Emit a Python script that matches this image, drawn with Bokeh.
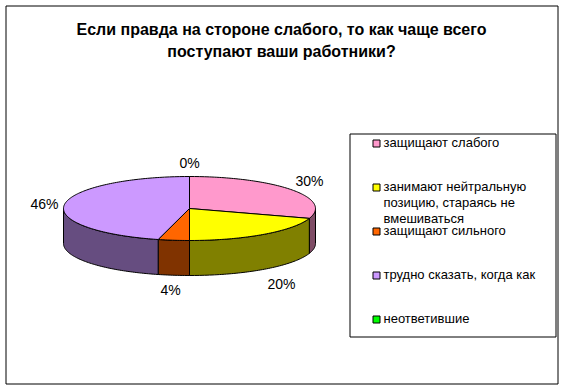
import math
from bokeh.plotting import figure
from bokeh.models import Range1d
from bokeh.embed import file_html
from bokeh.resources import INLINE

title_lines = ["Если правда на стороне слабого, то как чаще всего", "поступают ваши работники?"]
values = [30, 20, 4, 46, 0]
pct_labels = ["30%", "20%", "4%", "46%", "0%"]
legend_items = [["защищают слабого"],
                ["занимают нейтральную", "позицию, стараясь не", "вмешиваться"],
                ["защищают сильного"],
                ["трудно сказать, когда как"],
                ["неответившие"]]
top_colors = ["#ff99cc", "#ffff00", "#ff6600", "#cc99ff", "#00ff00"]
side_colors = ["#7f4d66", "#808000", "#803300", "#664d80", "#008000"]

W, H = 564, 389
CX, CY, RX, RY, DEPTH = 189, 208, 126, 32, 35
FONT = "Liberation Sans"

p = figure(width=W, height=H, output_backend="svg", toolbar_location=None,
           x_range=Range1d(0, W), y_range=Range1d(H, 0), min_border=0,
           outline_line_color=None, background_fill_color="white", border_fill_color="white")
p.axis.visible = False
p.grid.visible = False


def pt(a, dy=0.0):
    return CX + RX * math.sin(a), CY - RY * math.cos(a) + dy


def arc(a0, a1, dy=0.0):
    n = max(2, int(abs(a1 - a0) / 0.02) + 2)
    return [pt(a0 + (a1 - a0) * i / (n - 1), dy) for i in range(n)]


# outer frame and legend box
p.quad(left=[5.5], right=[557.5], top=[5.5], bottom=[383.5], fill_color="white", line_color="black", line_width=1)
p.quad(left=[349.5], right=[555.5], top=[133.5], bottom=[336.5], fill_color="white", line_color="black", line_width=1)

# slices
total = sum(values)
edges = [0.0]
for v in values:
    edges.append(edges[-1] + v / total * 2 * math.pi)

# side walls: only the front half (90..270 degrees) is visible
for i, v in enumerate(values):
    a0 = max(edges[i], math.pi / 2)
    a1 = min(edges[i + 1], 3 * math.pi / 2)
    if a1 > a0:
        poly = arc(a0, a1) + arc(a1, a0, DEPTH)
        p.patch([q[0] for q in poly], [q[1] for q in poly], fill_color=side_colors[i], line_color="black", line_width=1)

# top faces
for i, v in enumerate(values):
    if v > 0:
        poly = [(CX, CY)] + arc(edges[i], edges[i + 1])
        p.patch([q[0] for q in poly], [q[1] for q in poly], fill_color=top_colors[i], line_color="black", line_width=1)

# percentage labels
label_pos = [(309, 180), (281, 283), (170, 289), (44, 203), (189, 162)]
for s, (x, y) in zip(pct_labels, label_pos):
    p.text([x], [y], text=[s], text_font={"value": FONT}, text_font_size="14px", text_color="black",
           text_align="center", text_baseline="middle")

# title
for s, y in zip(title_lines, [29, 51]):
    p.text([281], [y], text=[s], text_font={"value": FONT}, text_font_size="16px", text_font_style="bold",
           text_color="black", text_align="center", text_baseline="middle")

# legend
legend_y = [143, 187, 231, 275, 319]
for items, y, c in zip(legend_items, legend_y, top_colors):
    p.quad(left=[372.5], right=[379.5], top=[y - 3.5], bottom=[y + 3.5], fill_color=c, line_color="black", line_width=1)
    for j, s in enumerate(items):
        p.text([383], [y - 1 + j * 16], text=[s], text_font={"value": FONT}, text_font_size="13px", text_color="black",
               text_align="left", text_baseline="middle")

open("out.html", "w").write(file_html(p, INLINE))
